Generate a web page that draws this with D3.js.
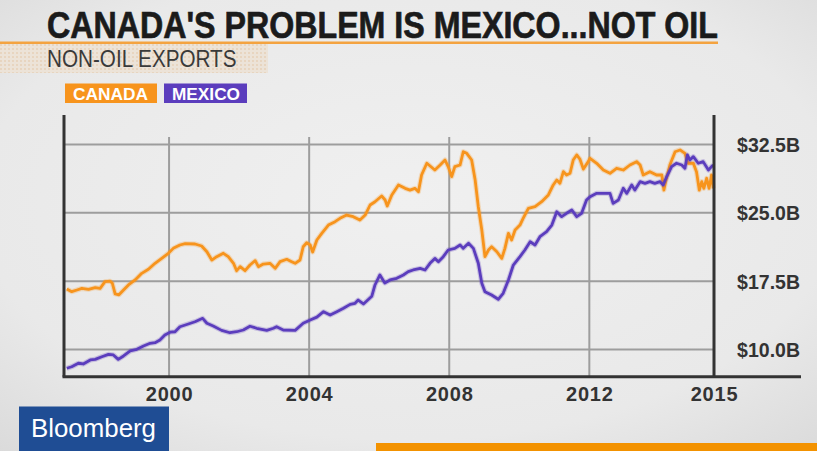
<!DOCTYPE html>
<html>
<head>
<meta charset="utf-8">
<script src="https://cdn.jsdelivr.net/npm/d3@7"></script>
<style>
  html, body { margin: 0; padding: 0; background: #e8e8e8; }
  svg { display: block; }
</style>
</head>
<body>
<svg id="chart" width="817" height="451"></svg>
<script>
// ---------------- DATA ----------------
const title = "CANADA'S PROBLEM IS MEXICO...NOT OIL";
const subtitle = "NON-OIL EXPORTS";
const seriesNames = ["CANADA", "MEXICO"];

const canadaYears = [1997.08,1997.22,1997.37,1997.51,1997.70,1997.89,1998.03,1998.17,1998.32,1998.38,1998.46,1998.57,1998.70,1998.84,1999.03,1999.22,1999.41,1999.60,1999.79,1999.98,2000.12,2000.31,2000.46,2000.74,2000.93,2001.08,2001.22,2001.36,2001.55,2001.69,2001.84,2001.93,2002.03,2002.17,2002.31,2002.46,2002.55,2002.69,2002.88,2003.03,2003.17,2003.36,2003.50,2003.60,2003.74,2003.83,2003.93,2004.03,2004.10,2004.22,2004.36,2004.55,2004.74,2004.88,2005.07,2005.26,2005.45,2005.60,2005.74,2005.88,2006.07,2006.17,2006.23,2006.36,2006.55,2006.74,2006.88,2007.02,2007.12,2007.21,2007.36,2007.59,2007.74,2007.88,2007.97,2008.07,2008.16,2008.31,2008.40,2008.50,2008.64,2008.74,2008.83,2008.93,2009.02,2009.12,2009.21,2009.36,2009.50,2009.59,2009.69,2009.78,2009.88,2010.02,2010.11,2010.26,2010.45,2010.64,2010.83,2010.97,2011.07,2011.16,2011.26,2011.35,2011.45,2011.54,2011.64,2011.73,2011.83,2011.97,2012.02,2012.21,2012.40,2012.59,2012.78,2012.97,2013.16,2013.35,2013.45,2013.54,2013.73,2013.92,2014.07,2014.13,2014.19,2014.30,2014.45,2014.59,2014.73,2014.82,2014.97,2015.06,2015.14,2015.21,2015.27,2015.35,2015.42,2015.49,2015.54];
const canadaValues = [16.64,16.35,16.53,16.70,16.60,16.80,16.70,17.45,17.50,17.27,16.10,16.00,16.53,17.08,17.63,18.36,18.80,19.46,20.00,20.56,21.10,21.47,21.62,21.58,21.36,20.73,19.82,20.19,20.56,20.19,19.46,18.65,19.09,18.65,19.27,19.75,19.09,19.38,19.46,18.91,19.64,19.90,19.64,19.46,19.82,21.28,21.72,21.47,20.70,22.02,22.75,23.66,24.03,24.40,24.76,24.58,24.21,24.76,25.86,26.22,26.85,26.41,25.75,26.96,28.06,27.69,27.50,27.69,27.32,29.15,30.44,29.70,30.25,30.80,30.07,28.97,30.07,30.25,31.71,31.53,30.80,28.60,25.67,23.12,20.19,20.92,21.28,20.73,20.00,21.10,22.75,22.02,23.12,23.66,24.40,25.50,25.67,26.22,26.96,28.06,28.60,28.24,29.52,29.15,29.34,30.80,31.35,30.90,29.80,30.62,30.99,30.44,29.70,29.34,29.89,29.70,30.25,30.62,30.25,29.15,29.52,29.15,29.15,27.50,28.60,30.25,31.71,31.90,31.53,30.44,30.44,29.52,27.50,28.42,27.69,28.79,27.69,29.15,27.69];

const mexicoYears = [1997.08,1997.22,1997.41,1997.55,1997.75,1997.89,1998.08,1998.27,1998.41,1998.55,1998.70,1998.89,1999.08,1999.27,1999.46,1999.60,1999.74,1999.88,2000.03,2000.17,2000.31,2000.55,2000.74,2000.96,2001.08,2001.26,2001.50,2001.74,2001.93,2002.12,2002.31,2002.50,2002.79,2002.98,2003.07,2003.26,2003.60,2003.83,2004.03,2004.22,2004.41,2004.60,2004.79,2004.98,2005.17,2005.31,2005.40,2005.55,2005.79,2005.88,2006.02,2006.16,2006.31,2006.50,2006.69,2006.83,2006.97,2007.17,2007.31,2007.45,2007.59,2007.69,2007.83,2007.97,2008.16,2008.31,2008.40,2008.55,2008.69,2008.83,2008.93,2009.02,2009.21,2009.40,2009.54,2009.69,2009.83,2010.02,2010.16,2010.31,2010.45,2010.59,2010.78,2010.93,2011.07,2011.21,2011.35,2011.50,2011.64,2011.78,2011.92,2012.02,2012.21,2012.40,2012.59,2012.68,2012.83,2012.97,2013.07,2013.21,2013.30,2013.45,2013.59,2013.73,2013.87,2014.02,2014.11,2014.21,2014.35,2014.49,2014.64,2014.73,2014.80,2014.87,2014.97,2015.11,2015.25,2015.40,2015.49,2015.54];
const mexicoValues = [7.94,8.11,8.49,8.41,8.85,8.92,9.21,9.47,9.40,8.92,9.29,9.84,10.02,10.38,10.68,10.75,11.04,11.59,11.90,11.95,12.50,12.80,13.05,13.42,12.88,12.58,12.10,11.84,11.95,12.14,12.55,12.33,12.10,12.33,12.50,12.14,12.10,12.88,13.24,13.55,14.15,13.79,14.15,14.52,14.95,15.07,15.43,15.00,15.85,17.08,18.18,17.30,17.63,17.81,18.18,18.54,18.73,18.91,18.73,19.46,20.00,19.64,20.19,20.92,21.10,21.47,21.10,21.66,21.10,19.46,17.27,16.34,15.98,15.51,16.17,17.63,19.27,20.19,20.92,21.83,21.47,22.38,22.93,23.66,25.12,24.58,24.95,25.31,24.58,24.95,26.41,26.77,27.14,27.14,27.14,26.04,26.41,27.69,27.14,28.06,27.50,28.42,28.24,28.42,28.24,28.42,28.06,28.97,30.07,30.44,30.25,29.89,31.35,30.80,31.17,30.44,30.62,29.70,30.07,30.25];

const xTickValues = [2000, 2004, 2008, 2012, 2015.56];
const xTickLabels = ["2000", "2004", "2008", "2012", "2015"];
const yTickValues = [10, 17.5, 25, 32.5];

// ---------------- DRAW ----------------
const svg = d3.select("#chart");
const W = 817, H = 451;
const colors = { CANADA: "#f7941d", MEXICO: "#5b3dbd" };
const font = "Liberation Sans, Arial, sans-serif";

const defs = svg.append("defs");
const bg = defs.append("radialGradient").attr("id", "bg")
  .attr("cx", "50%").attr("cy", "45%").attr("r", "75%");
bg.append("stop").attr("offset", "0%").attr("stop-color", "#f0f0f0");
bg.append("stop").attr("offset", "70%").attr("stop-color", "#e9e9e9");
bg.append("stop").attr("offset", "100%").attr("stop-color", "#dadada");
const pat = defs.append("pattern").attr("id", "dots").attr("width", 4).attr("height", 4)
  .attr("patternUnits", "userSpaceOnUse");
pat.append("rect").attr("width", 4).attr("height", 4).attr("fill", "#ece3d8");
pat.append("circle").attr("cx", 1).attr("cy", 1).attr("r", 0.9).attr("fill", "#e6cfb4");

svg.append("rect").attr("width", W).attr("height", H).attr("fill", "url(#bg)");

// title block
svg.append("rect").attr("x", 0).attr("y", 44).attr("width", 268).attr("height", 29).attr("fill", "url(#dots)");
svg.append("rect").attr("x", 0).attr("y", 41.5).attr("width", 718).attr("height", 2.5).attr("fill", "#f4a340");
svg.append("text").attr("transform", "translate(47,38) scale(1,1.165)").text(title)
  .attr("font-family", font).attr("font-weight", "bold")
  .attr("font-size", 32.2).attr("fill", "#1b1b1b")
  .attr("stroke", "#1b1b1b").attr("stroke-width", 0.6);
svg.append("text").attr("transform", "translate(47,67) scale(0.88,1)").text(subtitle)
  .attr("font-family", font)
  .attr("font-size", 23.5).attr("fill", "#3a3a3a");

// legend
const legendBoxes = [
  { name: seriesNames[0], x: 65, w: 92, tx: 73, tw: 75 },
  { name: seriesNames[1], x: 164, w: 83, tx: 172, tw: 68 }
];
const lg = svg.append("g");
legendBoxes.forEach(b => {
  lg.append("rect").attr("x", b.x).attr("y", 83.5).attr("width", b.w).attr("height", 19.5)
    .attr("fill", colors[b.name]);
  lg.append("text").attr("x", b.tx).attr("y", 99.5).text(b.name)
    .attr("font-family", font).attr("font-weight", "bold")
    .attr("font-size", 16.5).attr("fill", "#ffffff")
    .attr("textLength", b.tw).attr("lengthAdjust", "spacingAndGlyphs");
});

// scales
const x = d3.scaleLinear().domain([1997, 2015.56]).range([64, 714]);
const y = d3.scaleLinear().domain([10, 32.5]).range([349.5, 144.5]);
const yBottom = 376.7, yTop = 115;

// grid
const grid = svg.append("g");
grid.selectAll("line.h").data(yTickValues).join("line")
  .attr("x1", x(1997)).attr("x2", x(2015.56))
  .attr("y1", d => y(d)).attr("y2", d => y(d))
  .attr("stroke", "#9d9d9d").attr("stroke-width", 2);
grid.selectAll("line.v").data(xTickValues.slice(0, 4)).join("line")
  .attr("x1", d => x(d)).attr("x2", d => x(d))
  .attr("y1", 137).attr("y2", yBottom)
  .attr("stroke", "#9d9d9d").attr("stroke-width", 2);

// lines
const line = d3.line().x(d => x(d[0])).y(d => y(d[1])).curve(d3.curveLinear);
const canada = canadaYears.map((t, i) => [t, canadaValues[i]]);
const mexico = mexicoYears.map((t, i) => [t, mexicoValues[i]]);
[[canada, colors.CANADA], [mexico, colors.MEXICO]].forEach(([data, c]) => {
  svg.append("path").datum(data).attr("d", line).attr("fill", "none")
    .attr("stroke", c).attr("stroke-width", 5).attr("stroke-opacity", 0.25)
    .attr("stroke-linejoin", "round");
  svg.append("path").datum(data).attr("d", line).attr("fill", "none")
    .attr("stroke", c).attr("stroke-width", 2.8).attr("stroke-linejoin", "round");
});

// axes frame
const axisColor = "#333333";
svg.append("line").attr("x1", 64).attr("x2", 64).attr("y1", yTop).attr("y2", yBottom)
  .attr("stroke", axisColor).attr("stroke-width", 3);
svg.append("line").attr("x1", 714).attr("x2", 714).attr("y1", yTop).attr("y2", yBottom)
  .attr("stroke", axisColor).attr("stroke-width", 3);

// x axis
const xAxis = d3.axisBottom(x).tickValues(xTickValues)
  .tickFormat((d, i) => xTickLabels[i]).tickSize(0).tickPadding(0);
const gx = svg.append("g").attr("transform", `translate(0,${yBottom})`).call(xAxis);
gx.select(".domain").attr("d", `M62.5,0H801`).attr("stroke", axisColor).attr("stroke-width", 3);
gx.selectAll("text").attr("dy", null).attr("y", 24)
  .attr("font-family", font).attr("font-weight", "bold")
  .attr("font-size", 20).attr("letter-spacing", 0.8).attr("fill", "#333");

// y axis (right labels)
const yAxis = d3.axisRight(y).tickValues(yTickValues)
  .tickFormat(d => "$" + d3.format(".1f")(d) + "B").tickSize(0).tickPadding(0);
const gy = svg.append("g").attr("transform", `translate(800,0)`).call(yAxis);
gy.select(".domain").remove();
gy.selectAll("text").attr("x", 0).attr("dy", "0.36em").attr("text-anchor", "end")
  .attr("font-family", font).attr("font-weight", "bold")
  .attr("font-size", 19.5).attr("fill", "#333");

// Bloomberg logo & orange bar
svg.append("rect").attr("x", 19).attr("y", 406.5).attr("width", 150).attr("height", 45).attr("fill", "#1f4d94");
svg.append("text").attr("x", 31).attr("y", 437).text("Bloomberg")
  .attr("font-family", font).attr("font-size", 25)
  .attr("fill", "#ffffff").attr("textLength", 125).attr("lengthAdjust", "spacingAndGlyphs");
svg.append("rect").attr("x", 376).attr("y", 443).attr("width", 441).attr("height", 8).attr("fill", "#f39200");
</script>
</body>
</html>
